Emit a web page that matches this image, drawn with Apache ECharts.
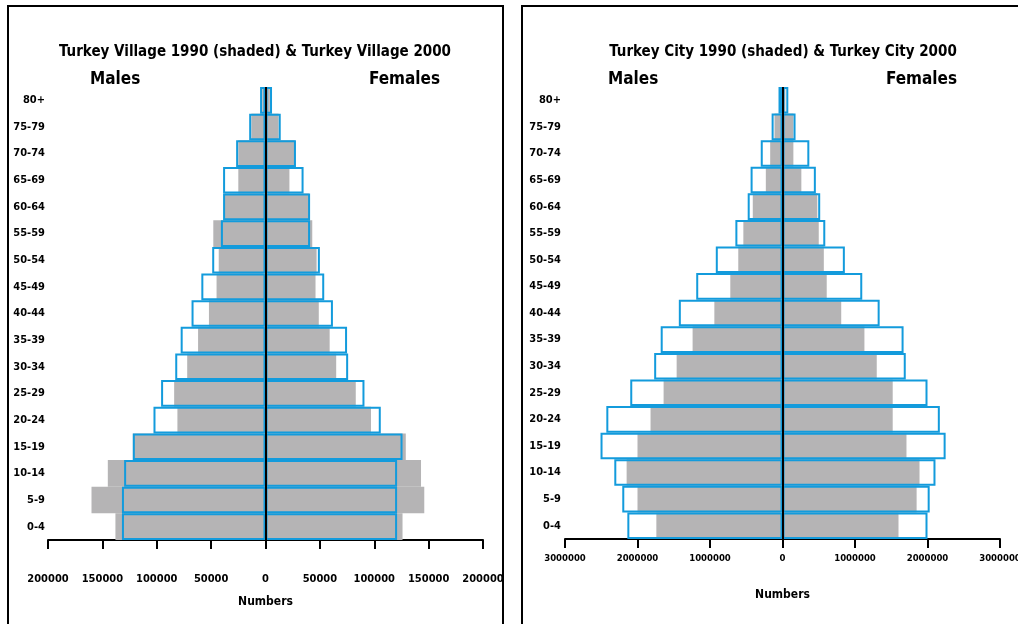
<!DOCTYPE html>
<html>
<head>
<meta charset="utf-8">
<script src="https://cdn.jsdelivr.net/npm/echarts@6/dist/echarts.min.js"></script>
<style>
  html, body { margin: 0; padding: 0; background: #fff; }
  #chart { width: 1018px; height: 624px; }
</style>
</head>
<body>
<div id="chart"></div>
<script>
// Age groups, youngest at the bottom of each pyramid
const ageGroups = ['0-4','5-9','10-14','15-19','20-24','25-29','30-34','35-39','40-44',
                   '45-49','50-54','55-59','60-64','65-69','70-74','75-79','80+'];

// Village population
const village1990Males   = [138000,160000,145000,122000, 81000, 84000, 72000, 62000, 52000, 45000, 43000, 48000, 38000, 25000, 25000, 13000, 3000];
const village1990Females = [126000,146000,143000,129000, 97000, 83000, 65000, 59000, 49000, 46000, 47000, 43000, 40000, 22000, 27000, 12000, 4000];
const village2000Males   = [132000,132000,130000,122000,103000, 96000, 83000, 78000, 68000, 59000, 49000, 41000, 39000, 39000, 27000, 15000, 5000];
const village2000Females = [121000,121000,121000,126000,106000, 91000, 76000, 75000, 62000, 54000, 50000, 41000, 41000, 35000, 28000, 14000, 6000];

// City population
const city1990Males   = [1740000,2000000,2150000,2000000,1820000,1640000,1460000,1240000, 940000, 720000, 610000, 540000, 410000, 230000, 170000, 110000, 30000];
const city1990Females = [1600000,1850000,1890000,1710000,1520000,1520000,1300000,1130000, 810000, 610000, 570000, 500000, 480000, 260000, 150000, 150000, 40000];
const city2000Males   = [2140000,2210000,2320000,2510000,2430000,2100000,1770000,1680000,1430000,1190000, 920000, 650000, 480000, 440000, 300000, 150000, 55000];
const city2000Females = [2000000,2030000,2110000,2250000,2170000,2000000,1700000,1670000,1340000,1100000, 860000, 590000, 520000, 460000, 370000, 180000, 80000];

// Axis ticks
const villageTicks = { min: -200000, max: 200000, interval: 50000 };
const cityTicks    = { min: -3000000, max: 3000000, interval: 1000000 };

const titles = ['Turkey Village 1990 (shaded) & Turkey Village 2000',
                'Turkey City 1990 (shaded) & Turkey City 2000'];

const FONT = "'Liberation Sans Narrow', 'DejaVu Sans Condensed', 'Liberation Sans', Arial, sans-serif";
const BLUE = '#139bdc';
const GRAY = '#b5b4b5';

const neg = arr => arr.map(v => -v);

function xAxisFor(idx, ticks, labelSize, labelMargin, nameGap) {
  return {
    gridIndex: idx, type: 'value', min: ticks.min, max: ticks.max, interval: ticks.interval,
    splitLine: { show: false },
    axisLine: { show: true, onZero: false, lineStyle: { color: '#000', width: 2 } },
    axisTick: { show: true, inside: false, length: 9, lineStyle: { color: '#000', width: 2 } },
    axisLabel: { fontFamily: FONT, fontWeight: 'bold', fontSize: labelSize, color: '#000',
                 margin: labelMargin, hideOverlap: false, formatter: v => String(Math.abs(v)) },
    name: 'Numbers', nameLocation: 'middle', nameGap: nameGap,
    nameTextStyle: { fontFamily: FONT, fontSize: 12, color: '#000', fontWeight: 'bold' }
  };
}

function yAxisFor(idx, labelMargin) {
  return {
    gridIndex: idx, type: 'category', data: ageGroups,
    axisLine: { show: false }, axisTick: { show: false }, splitLine: { show: false },
    axisLabel: { fontFamily: FONT, fontWeight: 'bold', fontSize: 11, color: '#000', margin: labelMargin }
  };
}

function barsFor(idx, m90, f90, m00, f00) {
  const shaded = data => ({
    type: 'bar', xAxisIndex: idx, yAxisIndex: idx, data: data,
    barWidth: '100%', barGap: '-100%', z: 2, silent: true,
    itemStyle: { color: GRAY }
  });
  const outlined = data => ({
    type: 'bar', xAxisIndex: idx, yAxisIndex: idx, data: data,
    barWidth: '100%', barGap: '-100%', z: 3, silent: true,
    itemStyle: { color: 'rgba(0,0,0,0)', borderColor: BLUE, borderWidth: 2 }
  });
  return [
    shaded(neg(m90)), shaded(f90), outlined(neg(m00)), outlined(f00),
    { // centre line at zero
      type: 'line', xAxisIndex: idx, yAxisIndex: idx, data: [], z: 5, silent: true,
      markLine: { silent: true, symbol: 'none', animation: false,
                  label: { show: false },
                  lineStyle: { color: '#000', width: 2, type: 'solid' },
                  data: [{ xAxis: 0 }] }
    }
  ];
}

const textStyleTitle = { fontFamily: FONT, fontWeight: 'bold', fontSize: 15, fill: '#000' };
const textStyleSide  = { fontFamily: FONT, fontWeight: 'bold', fontSize: 17, fill: '#000' };

const chart = echarts.init(document.getElementById('chart'), null, { renderer: 'canvas' });
chart.setOption({
  animation: false,
  backgroundColor: '#fff',
  grid: [
    { left: 48, top: 87, width: 435, height: 453, outerBoundsMode: 'none', containLabel: false },
    { left: 565, top: 87, width: 435, height: 452, outerBoundsMode: 'none', containLabel: false }
  ],
  xAxis: [
    xAxisFor(0, villageTicks, 11, 34, 56),
    xAxisFor(1, cityTicks, 9.5, 15, 50)
  ],
  yAxis: [ yAxisFor(0, 3), yAxisFor(1, 4) ],
  series: [].concat(
    barsFor(0, village1990Males, village1990Females, village2000Males, village2000Females),
    barsFor(1, city1990Males, city1990Females, city2000Males, city2000Females)
  ),
  graphic: [
    // panel frames
    { type: 'polyline', shape: { points: [[8, 624], [8, 6], [503, 6], [503, 624]] },
      style: { stroke: '#000', lineWidth: 2, fill: null }, silent: true },
    { type: 'polyline', shape: { points: [[522, 624], [522, 6], [1020, 6]] },
      style: { stroke: '#000', lineWidth: 2, fill: null }, silent: true },
    // titles
    { type: 'text', x: 255, y: 52, style: Object.assign({ text: titles[0], textAlign: 'center', textVerticalAlign: 'middle' }, textStyleTitle) },
    { type: 'text', x: 783, y: 52, style: Object.assign({ text: titles[1], textAlign: 'center', textVerticalAlign: 'middle' }, textStyleTitle) },
    // side labels
    { type: 'text', x: 90, y: 80, style: Object.assign({ text: 'Males', textVerticalAlign: 'middle' }, textStyleSide) },
    { type: 'text', x: 440, y: 80, style: Object.assign({ text: 'Females', textAlign: 'right', textVerticalAlign: 'middle' }, textStyleSide) },
    { type: 'text', x: 608, y: 80, style: Object.assign({ text: 'Males', textVerticalAlign: 'middle' }, textStyleSide) },
    { type: 'text', x: 957, y: 80, style: Object.assign({ text: 'Females', textAlign: 'right', textVerticalAlign: 'middle' }, textStyleSide) }
  ]
});
</script>
</body>
</html>
